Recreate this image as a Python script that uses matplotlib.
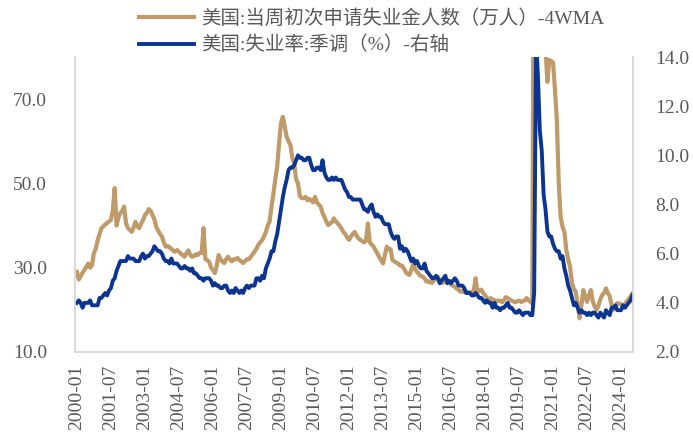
import matplotlib
matplotlib.use("Agg")
import matplotlib.pyplot as plt
from matplotlib.ticker import FormatStrFormatter

# ---- data (monthly, 2000-01 .. 2024-07) ----
claims_2000 = [29.0, 27.2, 28.0, 28.8, 29.5, 30.2, 31.0, 30.0, 30.6, 33.5, 34.5, 36.5]
claims_2001 = [38.0, 39.4, 39.8, 40.3, 40.6, 41.0, 41.3, 43.5, 48.9, 40.0, 42.0, 43.0]
claims_2002 = [43.5, 44.5, 40.5, 39.4, 39.0, 38.5, 39.5, 40.9, 39.8, 39.4, 40.5, 41.3]
claims_2003 = [42.5, 43.0, 43.9, 43.5, 42.5, 41.5, 39.7, 38.8, 38.0, 37.4, 36.0, 35.0]
claims_2004 = [35.2, 34.8, 34.5, 34.0, 33.8, 34.2, 33.8, 33.3, 33.0, 32.6, 33.5, 34.1]
claims_2005 = [33.0, 32.6, 32.8, 33.2, 33.0, 33.5, 33.5, 39.4, 32.0, 31.8, 31.4, 30.0]
claims_2006 = [29.5, 28.7, 30.5, 33.0, 32.0, 31.5, 31.1, 32.0, 32.6, 32.0, 31.5, 32.0]
claims_2007 = [32.0, 32.3, 31.8, 31.5, 31.1, 31.6, 32.0, 32.0, 32.6, 33.2, 33.8, 34.5]
claims_2008 = [35.4, 36.0, 36.5, 37.4, 38.5, 40.0, 41.0, 44.5, 47.6, 51.0, 54.0, 59.5]
claims_2009 = [64.3, 65.8, 63.5, 61.1, 60.0, 59.1, 56.0, 54.8, 51.0, 50.0, 47.0, 46.5]
claims_2010 = [46.5, 46.8, 46.0, 46.3, 46.0, 45.5, 46.8, 45.5, 45.0, 44.5, 43.0, 42.0]
claims_2011 = [41.0, 40.1, 40.5, 40.8, 41.7, 41.0, 40.5, 40.0, 39.3, 38.5, 38.0, 37.2]
claims_2012 = [36.6, 37.4, 38.0, 38.5, 37.6, 37.0, 36.6, 36.3, 36.0, 36.5, 40.5, 36.0]
claims_2013 = [35.5, 35.0, 34.2, 33.4, 32.5, 31.8, 31.0, 33.0, 35.0, 34.4, 34.4, 31.8]
claims_2014 = [31.5, 31.2, 31.0, 30.5, 30.5, 29.9, 29.0, 28.5, 28.3, 29.5, 31.0, 29.7]
claims_2015 = [29.0, 28.5, 28.0, 27.9, 27.5, 26.7, 26.8, 26.5, 26.4, 27.0, 27.5, 27.9]
claims_2016 = [27.0, 26.4, 26.5, 26.8, 27.1, 26.5, 26.0, 25.7, 25.5, 25.0, 24.8, 24.3]
claims_2017 = [24.5, 24.2, 24.1, 24.3, 24.1, 24.2, 24.5, 27.5, 24.1, 24.5, 24.8, 24.0]
claims_2018 = [23.5, 22.7, 22.5, 22.8, 22.4, 22.3, 22.0, 22.2, 22.2, 21.8, 22.3, 23.0]
claims_2019 = [22.8, 22.5, 22.2, 22.0, 21.8, 22.0, 22.2, 21.9, 22.0, 22.2, 22.8, 22.3]
claims_2020 = [21.9, 21.5, 150.0, 550.0, 350.0, 180.0, 140.0, 110.0, 82.0, 74.1, 79.3, 79.0]
claims_2021 = [78.7, 72.2, 65.0, 50.0, 42.1, 39.7, 38.5, 34.2, 32.0, 30.2, 26.3, 25.0]
claims_2022 = [24.3, 21.5, 18.0, 21.0, 24.7, 23.0, 21.9, 23.5, 24.7, 22.0, 20.8, 20.0]
claims_2023 = [21.0, 22.5, 23.5, 24.0, 25.1, 24.0, 23.2, 21.0, 20.0, 20.8, 21.6, 21.5]
claims_2024 = [21.3, 21.0, 21.3, 22.0, 22.5, 23.2, 23.9]

unemp_2000 = [4.0, 4.1, 4.0, 3.8, 4.0, 4.0, 4.0, 4.1, 3.9, 3.9, 3.9, 3.9]
unemp_2001 = [4.2, 4.2, 4.3, 4.4, 4.3, 4.5, 4.6, 4.9, 5.0, 5.3, 5.5, 5.7]
unemp_2002 = [5.7, 5.7, 5.7, 5.9, 5.8, 5.8, 5.8, 5.7, 5.7, 5.7, 5.9, 6.0]
unemp_2003 = [5.8, 5.9, 5.9, 6.0, 6.1, 6.3, 6.2, 6.1, 6.1, 6.0, 5.8, 5.7]
unemp_2004 = [5.7, 5.6, 5.8, 5.6, 5.6, 5.6, 5.5, 5.4, 5.4, 5.5, 5.4, 5.4]
unemp_2005 = [5.3, 5.4, 5.2, 5.2, 5.1, 5.0, 5.0, 4.9, 5.0, 5.0, 5.0, 4.9]
unemp_2006 = [4.7, 4.8, 4.7, 4.7, 4.6, 4.6, 4.7, 4.7, 4.5, 4.4, 4.5, 4.4]
unemp_2007 = [4.6, 4.5, 4.4, 4.5, 4.4, 4.6, 4.7, 4.6, 4.7, 4.7, 4.7, 5.0]
unemp_2008 = [5.0, 4.9, 5.1, 5.0, 5.4, 5.6, 5.8, 6.1, 6.1, 6.5, 6.8, 7.3]
unemp_2009 = [7.8, 8.3, 8.7, 9.0, 9.4, 9.5, 9.5, 9.6, 9.8, 10.0, 9.9, 9.9]
unemp_2010 = [9.8, 9.8, 9.9, 9.9, 9.6, 9.4, 9.4, 9.5, 9.5, 9.4, 9.8, 9.3]
unemp_2011 = [9.1, 9.0, 9.0, 9.1, 9.0, 9.1, 9.0, 9.0, 9.0, 8.8, 8.6, 8.5]
unemp_2012 = [8.3, 8.3, 8.2, 8.2, 8.2, 8.2, 8.2, 8.0, 7.8, 7.8, 7.7, 7.9]
unemp_2013 = [8.0, 7.7, 7.5, 7.6, 7.5, 7.5, 7.3, 7.2, 7.2, 7.2, 6.9, 6.7]
unemp_2014 = [6.6, 6.7, 6.7, 6.2, 6.3, 6.1, 6.2, 6.1, 5.9, 5.7, 5.8, 5.6]
unemp_2015 = [5.7, 5.5, 5.4, 5.4, 5.6, 5.3, 5.2, 5.1, 5.0, 5.0, 5.1, 5.0]
unemp_2016 = [4.8, 4.9, 5.0, 5.1, 4.8, 4.9, 4.8, 4.9, 5.0, 4.9, 4.7, 4.7]
unemp_2017 = [4.7, 4.6, 4.4, 4.4, 4.4, 4.3, 4.3, 4.4, 4.3, 4.2, 4.2, 4.1]
unemp_2018 = [4.0, 4.1, 4.0, 4.0, 3.8, 4.0, 3.8, 3.8, 3.7, 3.8, 3.8, 3.9]
unemp_2019 = [4.0, 3.8, 3.8, 3.7, 3.6, 3.6, 3.7, 3.6, 3.5, 3.6, 3.6, 3.6]
unemp_2020 = [3.5, 3.5, 4.4, 14.8, 13.2, 11.0, 10.2, 8.4, 7.8, 6.9, 6.7, 6.7]
unemp_2021 = [6.4, 6.2, 6.1, 6.1, 5.8, 5.9, 5.4, 5.1, 4.7, 4.5, 4.2, 3.9]
unemp_2022 = [4.0, 3.8, 3.6, 3.7, 3.6, 3.6, 3.5, 3.6, 3.5, 3.6, 3.6, 3.5]
unemp_2023 = [3.4, 3.6, 3.5, 3.4, 3.7, 3.6, 3.5, 3.8, 3.8, 3.9, 3.7, 3.7]
unemp_2024 = [3.7, 3.9, 3.8, 3.9, 4.0, 4.1, 4.3]

tick_labels = ["2000-01", "2001-07", "2003-01", "2004-07", "2006-01", "2007-07",
               "2009-01", "2010-07", "2012-01", "2013-07", "2015-01", "2016-07",
               "2018-01", "2019-07", "2021-01", "2022-07", "2024-01"]
tick_step = 18

label_claims = "美国:当周初次申请失业金人数（万人）-4WMA"
label_unemp = "美国:失业率:季调（%）-右轴"

claims = (claims_2000 + claims_2001 + claims_2002 + claims_2003 + claims_2004 +
          claims_2005 + claims_2006 + claims_2007 + claims_2008 + claims_2009 +
          claims_2010 + claims_2011 + claims_2012 + claims_2013 + claims_2014 +
          claims_2015 + claims_2016 + claims_2017 + claims_2018 + claims_2019 +
          claims_2020 + claims_2021 + claims_2022 + claims_2023 + claims_2024)
unemp = (unemp_2000 + unemp_2001 + unemp_2002 + unemp_2003 + unemp_2004 +
         unemp_2005 + unemp_2006 + unemp_2007 + unemp_2008 + unemp_2009 +
         unemp_2010 + unemp_2011 + unemp_2012 + unemp_2013 + unemp_2014 +
         unemp_2015 + unemp_2016 + unemp_2017 + unemp_2018 + unemp_2019 +
         unemp_2020 + unemp_2021 + unemp_2022 + unemp_2023 + unemp_2024)

# ---- style ----
GOLD = "#C09B69"
BLUE = "#0C3591"
TXT = "#595959"
SPINE = "#D9D9D9"
NUMFONT = ["Liberation Serif", "DejaVu Serif"]
CJKFONT = ["Liberation Serif", "Noto Sans CJK SC", "DejaVu Sans"]
FS = 14

fig = plt.figure(figsize=(6.93, 4.34), dpi=100)
ax = fig.add_axes([75 / 693, 1 - 352 / 434, (633 - 75) / 693, (352 - 57) / 434])
ax2 = ax.twinx()

x = list(range(len(claims)))
l1, = ax.plot(x, claims, color=GOLD, lw=3.0, solid_joinstyle="round")
l2, = ax2.plot(list(range(len(unemp))), unemp, color=BLUE, lw=2.8, solid_joinstyle="round")

ax.set_xlim(-1, len(claims) - 0.7)
ax.set_ylim(10, 80)
ax.set_yticks([10, 30, 50, 70])
ax2.set_ylim(2, 14)
ax2.set_yticks([2, 4, 6, 8, 10, 12, 14])
ax.yaxis.set_major_formatter(FormatStrFormatter("%.1f"))
ax2.yaxis.set_major_formatter(FormatStrFormatter("%.1f"))

ticks = [i * tick_step for i in range(len(tick_labels))]
ax.set_xticks(ticks)
ax.set_xticklabels(tick_labels, rotation=90)

for a in (ax, ax2):
    for s in a.spines.values():
        s.set_color(SPINE)
        s.set_linewidth(1.2)
    a.spines["top"].set_visible(False)
    a.tick_params(length=0, labelsize=FS, colors=TXT)
    for lab in a.get_xticklabels() + a.get_yticklabels():
        lab.set_fontfamily(NUMFONT)
ax.tick_params(axis="y", pad=20)
ax2.tick_params(axis="y", pad=16)
ax.tick_params(axis="x", pad=9)

leg = fig.legend([l1, l2], [label_claims, label_unemp], loc="upper left",
                 bbox_to_anchor=(0.176, 1.02), frameon=False, handlelength=2.8,
                 handletextpad=0.35, labelspacing=0.42,
                 prop={"family": CJKFONT, "size": FS})
for t in leg.get_texts():
    t.set_color(TXT)

fig.savefig("out.png", dpi=100)
